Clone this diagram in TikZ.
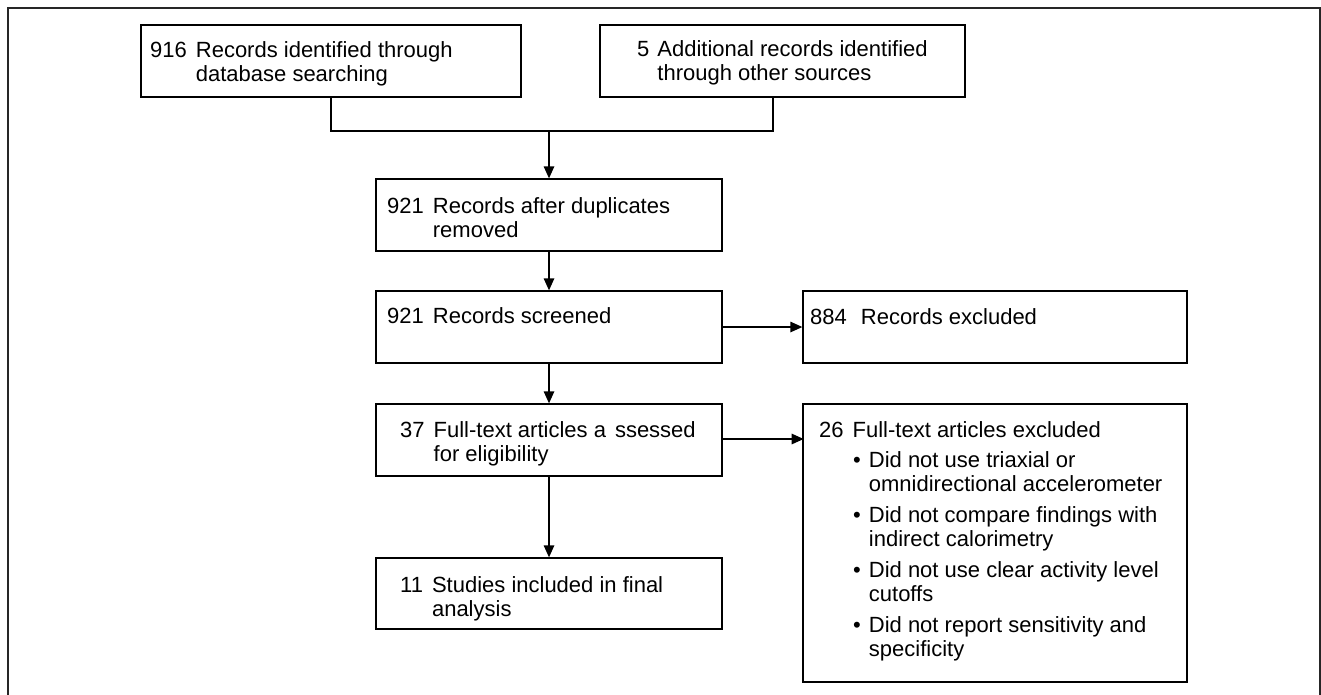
\documentclass[tikz,border=0pt]{standalone}
\usepackage{fontspec}
\setmainfont{Liberation Sans}
\usetikzlibrary{arrows.meta}
\newcommand{\rec}[3][9pt]{\begin{tabular}[t]{@{}r@{\hspace{#1}}l@{}}#2 & \begin{tabular}[t]{@{}l@{}}#3\end{tabular}\end{tabular}}
\begin{document}
\begin{tikzpicture}[x=1pt, y=-1pt]
        \tikzstyle{box}=[draw, line width=1.3pt, rectangle, inner sep=0pt, minimum height=72pt]
        \tikzstyle{txt}=[anchor=base west, inner sep=0pt, font=\fontsize{22}{24.5}\selectfont]
        \tikzstyle{line}=[line width=1.3pt]
        \tikzstyle{arrow}=[line width=1.3pt, -{Triangle[length=12pt,width=10.5pt]}]
        \useasboundingbox (0,0) rectangle (1321,694);
        \draw[line width=1.6pt, black!85] (8,710) -- (8,8) -- (1320,8) -- (1320,710);
        \node[box, minimum width=380pt] (ident) at (331,61) {};
        \node[box, minimum width=365pt] (other) at (782.5,61) {};
        \node[box, minimum width=346pt] (dupl) at (549,215) {};
        \node[box, minimum width=346pt] (screen) at (549,327) {};
        \node[box, minimum width=384pt] (excl) at (995,327) {};
        \node[box, minimum width=346pt] (full) at (549,440) {};
        \node[box, minimum width=346pt, minimum height=71pt] (incl) at (549,593.5) {};
        \node[box, minimum width=384pt, minimum height=278pt] (fullexcl) at (995,543) {};
        \node[txt] (identtxt) at (150,57) {\rec{916}{Records identified through\\database searching}};
        \node[txt] (othertxt) at (637,56) {\rec[8pt]{5}{Additional records identified\\through other sources}};
        \node[txt] (dupltxt) at (387,213) {\rec{921}{Records after duplicates\\removed}};
        \node[txt] (screentxt) at (387,323) {\rec{921}{Records screened}};
        \node[txt] (excltxt) at (810,324) {\rec[14pt]{884}{Records excluded}};
        \node[txt] (fulltxt) at (400,437) {\rec{37}{Full-text articles a\hspace{9pt}ssessed\\for eligibility}};
        \node[txt] (incltxt) at (400,592) {\rec{11}{Studies included in final\\analysis}};
        \node[txt] (fullexcltxt) at (819,437) {\rec{26}{Full-text articles excluded}};
        \node[txt] (reasons) at (853,467) {\begin{tabular}[t]{@{}l@{\hspace{8pt}}l@{}}
            \textbullet & Did not use triaxial or\\
                        & omnidirectional accelerometer\\[6pt]
            \textbullet & Did not compare findings with\\
                        & indirect calorimetry\\[6pt]
            \textbullet & Did not use clear activity level\\
                        & cutoffs\\[6pt]
            \textbullet & Did not report sensitivity and\\
                        & specificity
        \end{tabular}};
        \coordinate (merge) at (549,131);
        \draw[line] (ident.south) |- (merge) -| ([xshift=-9.5pt]other.south);
        \draw[arrow] (merge) -- (dupl.north);
        \draw[arrow] (dupl) -- (screen);
        \draw[arrow] (screen) -- (full);
        \draw[arrow] (full) -- (incl);
        \draw[arrow] (screen) -- (excl);
        \draw[arrow] (full.east |- fullexcltxt.base) ++(0,2) -- ++(81,0);
    \end{tikzpicture}
\end{document}
